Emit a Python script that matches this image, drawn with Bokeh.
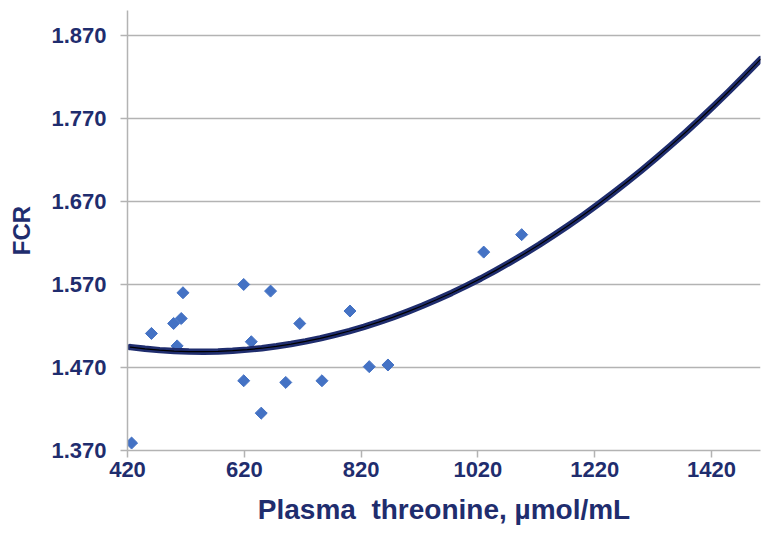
import math
from bokeh.plotting import figure
from bokeh.models import Range1d, FixedTicker, ColumnDataSource
from bokeh.embed import file_html
from bokeh.resources import INLINE

# Observed data points
threonine = [427, 461, 499, 505, 512, 515, 619, 619, 632, 649, 665, 691, 715, 753, 801, 834, 866, 1030, 1095]
fcr = [1.379, 1.511, 1.523, 1.496, 1.529, 1.560, 1.570, 1.454, 1.501, 1.415, 1.562, 1.452, 1.523, 1.454, 1.538, 1.471, 1.473, 1.609, 1.630]

# Trend curve
curve_x = [425, 450, 475, 500, 525, 550, 575, 600, 625, 650, 675, 700, 725, 750, 775, 800,
           825, 850, 875, 900, 925, 950, 975, 1000, 1025, 1050, 1075, 1100, 1125, 1150,
           1175, 1200, 1225, 1250, 1275, 1300, 1325, 1350, 1375, 1400, 1425, 1450, 1475, 1504]
curve_y = [1.4945, 1.4925, 1.4909, 1.4898, 1.4892, 1.4890, 1.4893, 1.4902, 1.4915, 1.4932,
           1.4955, 1.4982, 1.5014, 1.5051, 1.5093, 1.5139, 1.5190, 1.5246, 1.5307, 1.5373,
           1.5443, 1.5518, 1.5598, 1.5683, 1.5772, 1.5867, 1.5966, 1.6070, 1.6178, 1.6292,
           1.6410, 1.6533, 1.6661, 1.6794, 1.6931, 1.7073, 1.7220, 1.7372, 1.7528, 1.7690,
           1.7856, 1.8027, 1.8203, 1.8412]

x_ticks = [420, 620, 820, 1020, 1220, 1420]
y_ticks = [1.370, 1.470, 1.570, 1.670, 1.770, 1.870]

navy = "#1F2D6E"
grid = "#B3B3B3"

p = figure(output_backend="svg", toolbar_location=None,
           frame_width=633, frame_height=440,
           min_border_left=127, min_border_top=10, min_border_right=1, min_border_bottom=84,
           x_range=Range1d(420, 1504), y_range=Range1d(1.370, 1.900))
p.outline_line_color = None
p.xgrid.grid_line_color = None
p.ygrid.grid_line_color = grid
p.ygrid.grid_line_width = 1.5

for ax in (p.xaxis[0], p.yaxis[0]):
    ax.axis_line_color = grid
    ax.axis_line_width = 1.5
    ax.major_tick_line_color = grid
    ax.major_tick_line_width = 1.5
    ax.major_tick_out = 7
    ax.major_tick_in = 0
    ax.minor_tick_line_color = None
    ax.major_label_text_font = "Liberation Sans"
    ax.major_label_text_font_style = "bold"
    ax.major_label_text_font_size = "22px"
    ax.major_label_text_color = navy
    ax.axis_label_text_font = "Liberation Sans"
    ax.axis_label_text_font_style = "bold"
    ax.axis_label_text_color = navy

p.xaxis.ticker = FixedTicker(ticks=x_ticks)
p.yaxis.ticker = FixedTicker(ticks=y_ticks)
p.xaxis.major_label_overrides = {t: str(t) for t in x_ticks}
p.yaxis.major_label_overrides = {t: f"{t:.3f}" for t in y_ticks}
p.xaxis.major_label_standoff = 4
p.yaxis.major_label_standoff = 14

p.xaxis.axis_label = "Plasma\u00a0 threonine, µmol/mL"
p.xaxis.axis_label_text_font_size = "28px"
p.xaxis.axis_label_standoff = 14
p.yaxis.axis_label = "FCR"
p.yaxis.axis_label_text_font_size = "24px"
p.yaxis.axis_label_standoff = 13

src = ColumnDataSource(dict(x=threonine, y=fcr))
p.scatter("x", "y", source=src, marker="square", size=8.5, angle=math.pi / 4,
          fill_color="#4472C4", line_color="#4472C4")

p.line(curve_x, curve_y, line_color=navy, line_width=6.5, line_cap="round", line_join="round")
p.line(curve_x, curve_y, line_color="#000000", line_width=1.2, line_cap="round", line_join="round")

open("out.html", "w").write(file_html(p, INLINE))
